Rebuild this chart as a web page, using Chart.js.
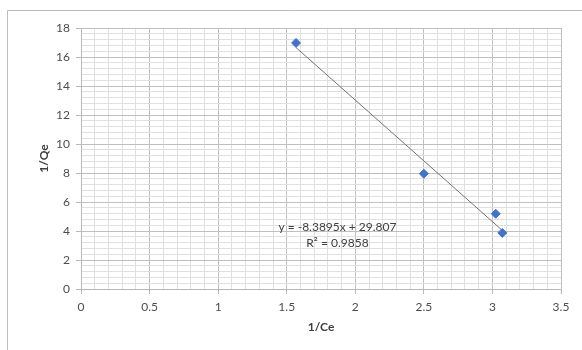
<!DOCTYPE html>
<html>
<head>
<meta charset="utf-8">
<script src="https://cdn.jsdelivr.net/npm/chart.js@4/dist/chart.umd.min.js"></script>
<style>
  html, body { margin: 0; padding: 0; background: #fff; }
  canvas { display: block; }
</style>
</head>
<body>
<canvas id="grafico" width="582" height="350"></canvas>
<script>
// pontos medidos (1/Ce, 1/Qe)
const invCe = [1.568, 2.5, 3.024, 3.072];
const invQe = [16.97, 7.95, 5.19, 3.87];

// linha de tendência (extremos)
const trendX = [1.568, 3.072];
const trendY = [16.65, 4.04];

// textos
const equacao = 'y = -8.3895x + 29.807';
const r2Texto = 'R\u00b2 = 0.9858';
const tituloX = '1/Ce';
const tituloY = '1/Qe';

const fonte = 'Lato, "Open Sans", sans-serif';

function ehMaior(v, passo) {
    const q = v / passo;
    return Math.abs(q - Math.round(q)) < 1e-6;
}

// moldura externa do gráfico (cortada à direita e embaixo)
const moldura = {
    id: 'moldura',
    beforeDraw(chart) {
        const ctx = chart.ctx;
        ctx.save();
        ctx.fillStyle = '#fff';
        ctx.fillRect(0, 0, chart.width, chart.height);
        ctx.strokeStyle = '#bcbcbc';
        ctx.lineWidth = 1;
        ctx.beginPath();
        ctx.moveTo(7.5, chart.height);
        ctx.lineTo(7.5, 10.5);
        ctx.lineTo(chart.width, 10.5);
        ctx.stroke();
        ctx.restore();
    }
};

// rótulo da equação da tendência
const rotuloEquacao = {
    id: 'rotuloEquacao',
    afterDatasetsDraw(chart) {
        const ctx = chart.ctx;
        const x = chart.scales.x.getPixelForValue(1.87);
        const y = chart.scales.y.getPixelForValue(4.3);
        ctx.save();
        ctx.fillStyle = '#404040';
        ctx.font = '12px ' + fonte;
        ctx.textAlign = 'center';
        ctx.textBaseline = 'middle';
        ctx.fillText(equacao, x, y);
        ctx.fillText(r2Texto, x, y + 16);
        ctx.restore();
    }
};

new Chart(document.getElementById('grafico'), {
    type: 'scatter',
    data: {
        datasets: [
            {
                label: 'tendência',
                data: trendX.map((x, i) => ({ x: x, y: trendY[i] })),
                showLine: true,
                borderColor: '#737373',
                borderWidth: 1,
                pointRadius: 0,
                order: 2
            },
            {
                label: '1/Qe',
                data: invCe.map((x, i) => ({ x: x, y: invQe[i] })),
                pointStyle: 'rectRot',
                pointRadius: 4.5,
                backgroundColor: '#4472C4',
                borderColor: '#4472C4',
                borderWidth: 1,
                order: 1
            }
        ]
    },
    options: {
        responsive: false,
        animation: false,
        devicePixelRatio: 1,
        layout: { padding: { top: 28, right: 21, left: 0, bottom: 0 } },
        plugins: {
            legend: { display: false },
            tooltip: { enabled: false }
        },
        scales: {
            x: {
                type: 'linear',
                min: 0,
                max: 3.5,
                afterFit(scale) { scale.height = 61; },
                border: { display: true, color: '#b8b8b8' },
                grid: {
                    color: c => ehMaior(c.tick.value, 0.5) ? '#bfbfbf' : '#e0e0e0',
                    tickColor: c => ehMaior(c.tick.value, 0.5) ? '#b8b8b8' : 'rgba(0,0,0,0)',
                    tickLength: 5
                },
                ticks: {
                    stepSize: 0.1,
                    autoSkip: false,
                    maxRotation: 0,
                    padding: 6,
                    color: '#4d4d4d',
                    font: { family: fonte, size: 12 },
                    callback: v => ehMaior(v, 0.5) ? String(Math.round(v * 10) / 10) : ''
                },
                title: {
                    display: true,
                    text: tituloX,
                    color: '#404040',
                    font: { family: fonte, size: 12, weight: 'bold' },
                    padding: { top: 0, bottom: 16 }
                }
            },
            y: {
                type: 'linear',
                min: 0,
                max: 18,
                afterFit(scale) { scale.width = 81; },
                border: { display: true, color: '#b8b8b8' },
                grid: {
                    color: c => ehMaior(c.tick.value, 2) ? '#bfbfbf' : '#e0e0e0',
                    tickColor: c => ehMaior(c.tick.value, 2) ? '#b8b8b8' : 'rgba(0,0,0,0)',
                    tickLength: 5
                },
                ticks: {
                    stepSize: 0.4,
                    autoSkip: false,
                    padding: 6,
                    color: '#4d4d4d',
                    font: { family: fonte, size: 12 },
                    callback: v => ehMaior(v, 2) ? String(Math.round(v)) : ''
                },
                title: {
                    display: true,
                    text: tituloY,
                    color: '#404040',
                    font: { family: fonte, size: 12, weight: 'bold' },
                    padding: { top: 37, bottom: 0 }
                }
            }
        }
    },
    plugins: [moldura, rotuloEquacao]
});
</script>
</body>
</html>
